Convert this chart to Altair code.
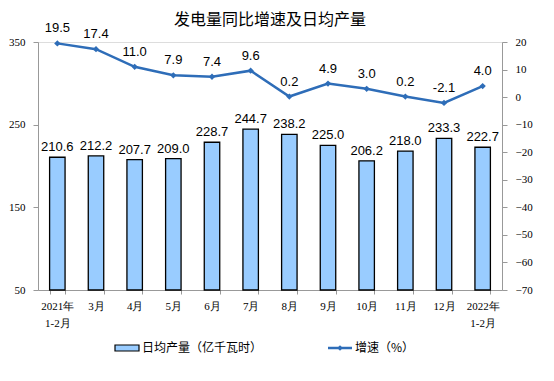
import altair as alt
import pandas as pd

categories = ["2021年\n1-2月", "3月", "4月", "5月", "6月", "7月", "8月", "9月",
              "10月", "11月", "12月", "2022年\n1-2月"]
daily_output = [210.6, 212.2, 207.7, 209.0, 228.7, 244.7, 238.2, 225.0, 206.2, 218.0, 233.3, 222.7]
growth = [19.5, 17.4, 11.0, 7.9, 7.4, 9.6, 0.2, 4.9, 3.0, 0.2, -2.1, 4.0]

df = pd.DataFrame({"cat": categories, "out": daily_output, "g": growth})
df["out_lbl"] = [f"{v:.1f}" for v in daily_output]
df["g_lbl"] = [f"{v:.1f}" for v in growth]
df["base"] = 50

W, H = 464, 248
LINE = "#2E6DB8"
NUM_FONT = "Liberation Sans"
SERIF = "Liberation Serif"

xenc = alt.X("cat:N", sort=categories, title=None,
             scale=alt.Scale(paddingInner=0.6, paddingOuter=0.3),
             axis=alt.Axis(labelAngle=0, labelExpr="split(datum.label, '\\n')",
                           tickBand="extent", domainColor="#999999", tickColor="#999999",
                           tickSize=4, labelFont=SERIF, labelFontSize=11, labelColor="#000",
                           labelPadding=6, labelLineHeight=17))

yscale_l = alt.Scale(domain=[50, 350], nice=False, zero=False)
yleft = alt.Y("out:Q", title=None, scale=yscale_l,
              axis=alt.Axis(values=[50, 150, 250, 350], grid=False, domainColor="#999999",
                            tickColor="#999999", tickSize=5, labelFont=SERIF, labelFontSize=11,
                            labelColor="#000", labelPadding=8, labelOverlap=False))

bars = alt.Chart(df).mark_bar(fill="#99CCFF", stroke="#000", strokeWidth=1.3).encode(
    x=xenc, y=yleft, y2="base:Q")
bar_text = alt.Chart(df).mark_text(baseline="bottom", dy=-3, font=NUM_FONT, fontSize=13, color="#000").encode(
    x=xenc, y=yleft, text="out_lbl:N")

yscale_r = alt.Scale(domain=[-70, 20], nice=False, zero=False)
yright = alt.Y("g:Q", title=None, scale=yscale_r,
               axis=alt.Axis(orient="right", values=list(range(-70, 21, 10)), grid=False,
                             domainColor="#999999", tickColor="#999999", tickSize=5,
                             labelFont=SERIF, labelFontSize=11, labelColor="#000", labelPadding=8,
                             labelOverlap=False))

line = alt.Chart(df).mark_line(color=LINE, strokeWidth=2.5,
                               point=alt.OverlayMarkDef(shape="diamond", size=40, fill=LINE, color=LINE)).encode(
    x=xenc, y=yright)
line_text = alt.Chart(df).mark_text(baseline="bottom", dy=-8, font=NUM_FONT, fontSize=13, color="#000").encode(
    x=xenc, y=yright, text="g_lbl:N")

left = alt.layer(bars, bar_text)
right = alt.layer(line, line_text)

# title and legend
leg = pd.DataFrame({"k": [0]})
title = alt.Chart(leg).mark_text(align="center", baseline="alphabetic", font="Noto Sans CJK SC", fontSize=16,
                                 color="#000").encode(
    x=alt.value(232), y=alt.value(-17), text=alt.value("发电量同比增速及日均产量"))
leg_rect = alt.Chart(leg).mark_rect(fill="#99CCFF", stroke="#000", strokeWidth=1.2).encode(
    x=alt.value(77), x2=alt.value(101), y=alt.value(303), y2=alt.value(309))
leg_t1 = alt.Chart(leg).mark_text(align="left", baseline="middle", font="Noto Sans CJK SC", fontSize=12, color="#000").encode(
    x=alt.value(104), y=alt.value(306), text=alt.value("日均产量（亿千瓦时）"))
leg_line = alt.Chart(leg).mark_rule(color=LINE, strokeWidth=2.5).encode(
    x=alt.value(290), x2=alt.value(314), y=alt.value(306))
leg_pt = alt.Chart(leg).mark_point(shape="diamond", size=30, filled=True, color=LINE, opacity=1).encode(
    x=alt.value(302), y=alt.value(306))
leg_t2 = alt.Chart(leg).mark_text(align="left", baseline="middle", font="Noto Sans CJK SC", fontSize=12, color="#000").encode(
    x=alt.value(317), y=alt.value(306), text=alt.value("增速（%）"))

chart = alt.layer(left, right, title, leg_rect, leg_t1, leg_line, leg_pt, leg_t2).resolve_scale(y="independent").properties(
    width=W, height=H,
    autosize=alt.AutoSizeParams(type="none"),
    padding={"left": 30, "top": 34, "right": 36, "bottom": 75},
).configure_view(stroke=None).configure(background="#ffffff")

chart.save("out.html", embed_options={"renderer": "svg", "actions": False})
